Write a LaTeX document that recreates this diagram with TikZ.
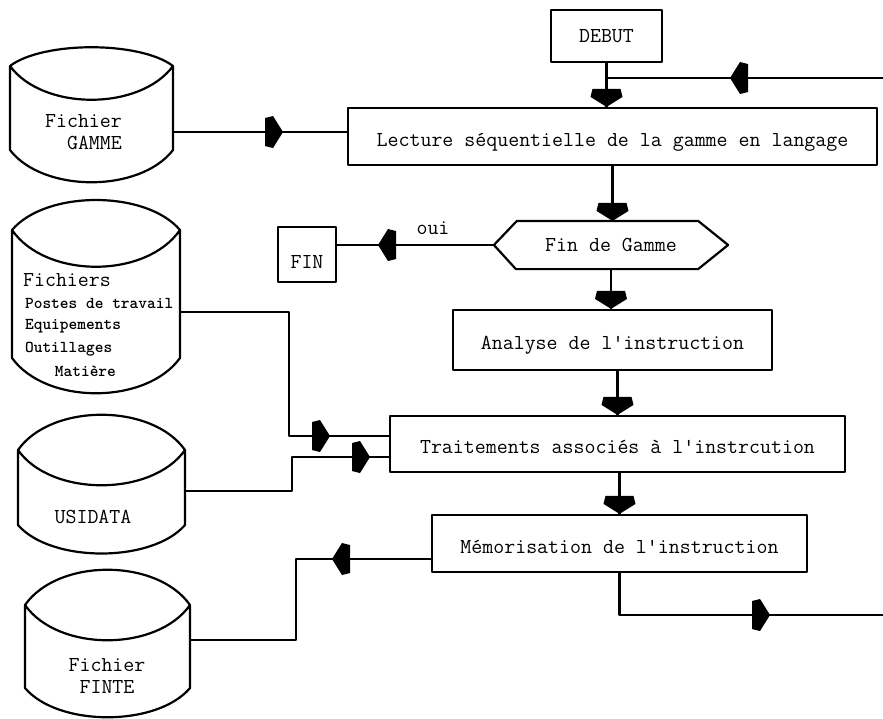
\documentclass[tikz,border=0pt]{standalone}
\usepackage{fontspec}
\newcommand\mainf{\ttfamily\fontsize{21.3}{22}\selectfont}
\newcommand\smallf{\ttfamily\bfseries\fontsize{16.6}{23}\selectfont}
\usetikzlibrary{calc}
\begin{document}
\begin{tikzpicture}[x=1pt,y=-1pt,line width=2.2pt,line join=round,
  box/.style={draw,rectangle,inner sep=0pt,font=\mainf},
  low/.style={text height=19pt,text depth=0pt},
  txt/.style={font=\mainf,inner sep=0pt},
  blk/.pic={\fill (0,0) -- (-10,-16) -- (-18,-14) -- (-18,14) -- (-10,16) -- cycle;}]
\useasboundingbox (0,0) rectangle (883,718);

% flow boxes
\node[box,minimum width=111pt,minimum height=52pt] (debut) at (606.5,36) {DEBUT};
\node[box,low,minimum width=529pt,minimum height=57pt] (lecture) at (612.5,136.5) {Lecture séquentielle de la gamme en langage};
\node[txt,minimum width=232pt,minimum height=46pt] (hex) at (611,245) {Fin de Gamme};
\draw (hex.west) -- ($(hex.north west)+(23,0)$) -- ($(hex.north east)+(-30,0)$) -- (hex.east)
      -- ($(hex.south east)+(-30,0)$) -- ($(hex.south west)+(22,0)$) -- cycle;
\node[box,minimum width=58pt,minimum height=55pt] (fin) at (307,254.5) {};
\node[txt] (fintxt) at ($(fin.center)+(0,7.5)$) {FIN};
\node[box,low,minimum width=319pt,minimum height=60pt] (analyse) at (612.5,340) {Analyse de l'instruction};
\node[box,low,minimum width=455pt,minimum height=56pt] (trait) at (617.5,444) {Traitements associés à l'instrcution};
\node[box,low,minimum width=375pt,minimum height=57pt] (memo) at (619.5,543.5) {Mémorisation de l'instruction};

% files (cylinders)
\draw (10,66) .. controls (43,41) and (140,41) .. (173,66) .. controls (140,111) and (43,111) .. (10,66)
      -- (10,150) .. controls (43,193) and (140,193) .. (173,150) -- (173,66);
\node[txt,anchor=east,align=right] (gammetxt) at (123,132) {Fichier\\GAMME};

\draw (12,230) .. controls (46,190) and (146,190) .. (180,230) .. controls (146,279) and (46,279) .. (12,230)
      -- (12,358) .. controls (46,405) and (146,405) .. (180,358) -- (180,230);
\node[txt,anchor=west] (fichtxt) at (22,280) {Fichiers};
\node[font=\smallf,inner sep=0pt,anchor=west] (postes) at (24,303) {Postes de travail};
\node[font=\smallf,inner sep=0pt,anchor=west] (equip) at (24,326) {Equipements};
\node[font=\smallf,inner sep=0pt,anchor=west] (outil) at (24,349) {Outillages};
\node[font=\smallf,inner sep=0pt,anchor=east] (mat) at (117,371) {Matière};

\draw (18,450) .. controls (51,403) and (152,403) .. (185,450) .. controls (152,497) and (51,497) .. (18,450)
      -- (18,525) .. controls (51,563) and (152,563) .. (185,525) -- (185,450);
\node[txt] (usitxt) at (93,517) {USIDATA};

\draw (25,605) .. controls (58,558) and (157,558) .. (190,605) .. controls (157,652) and (58,652) .. (25,605)
      -- (25,688) .. controls (58,727) and (157,727) .. (190,688) -- (190,605);
\node[txt,align=center] (fintetxt) at (107,676) {Fichier\\FINTE};

% connection points
\coordinate (loopin) at (883,78);
\coordinate (out) at (883,615);
\coordinate (gam) at (173,132);
\coordinate (fic) at (180,312);
\coordinate (usi) at (185,491);
\coordinate (fnt) at (190,640);
\coordinate (t1) at (trait.west |- 0,436);
\coordinate (t2) at (trait.west |- 0,457);
\coordinate (m1) at (memo.west |- 0,559);

% vertical flow
\draw (debut.south) -- (debut.south |- lecture.north);
\pic[rotate=-90] at (debut.south |- lecture.north) {blk};
\draw (loopin) -- (debut.south |- loopin);
\pic[rotate=180] at (730,78) {blk};
\draw (lecture.south) -- (lecture.south |- hex.north);
\pic[rotate=-90] at (lecture.south |- hex.north) {blk};
\draw (hex.south) -- (hex.south |- analyse.north);
\pic[rotate=-90] at (hex.south |- analyse.north) {blk};
\draw (trait.north |- analyse.south) -- (trait.north);
\pic[rotate=-90] at (trait.north) {blk};
\draw (memo.north |- trait.south) -- (memo.north);
\pic[rotate=-90] at (memo.north) {blk};
\draw (memo.south) |- (out);
\pic at (770,615) {blk};

% side connections
\draw (hex.west) -- (hex.west -| fin.east);
\pic[rotate=180] at (378,245) {blk};
\node[txt] (oui) at (433,228) {oui};
\draw (gam) -- (gam -| lecture.west);
\pic at (283,132) {blk};
\draw (fic) -- (289,312) -- (289,436) -- (t1);
\pic at (330,436) {blk};
\draw (usi) -- (292,491) -- (292,457) -- (t2);
\pic at (370,457) {blk};
\draw (m1) -- (296,559) -- (296,640) -- (fnt);
\pic[rotate=180] at (332,559) {blk};
\end{tikzpicture}
\end{document}
